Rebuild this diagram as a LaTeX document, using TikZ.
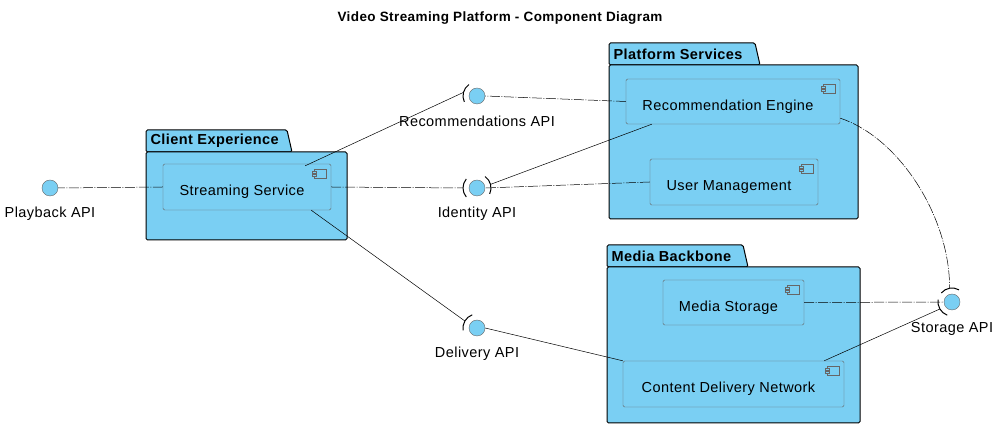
\documentclass[tikz,border=0pt]{standalone}
\usepackage{fontspec}
\setmainfont{Liberation Sans}[LetterSpace=3]
\begin{document}
\begin{tikzpicture}[x=1pt,y=1pt,
  pkg/.style={draw=black,fill=skyb,line width=1pt,rounded corners=1.5pt},
  comp/.style={draw=black!60,fill=skyb,rounded corners=1.5pt},
  iface/.style={circle,draw=black!60,fill=skyb,minimum size=16pt,inner sep=0pt},
  lbl/.style={font=\fontsize{14.5}{16}\selectfont},
  ptitle/.style={font=\bfseries\fontsize{14.5}{16}\selectfont,anchor=west},
  prov/.style={draw=black,dash pattern=on 10pt off 1.5pt on 1pt off 1.5pt,line width=0.5pt},
  req/.style={draw=black,line width=0.5pt},
  arcst/.style={draw=black,line width=1pt}]
\definecolor{skyb}{HTML}{7ACFF3}
\useasboundingbox (0,0) rectangle (1008,438);
\node[font=\bfseries\fontsize{13.5}{15}\selectfont] (title) at (500,420) {Video Streaming Platform - Component Diagram};
\newcommand{\pkgdraw}[7]{%
 \draw[pkg] (#1,#4) -- (#1,#5) -- (#2-5,#5) -- (#2,#4) -- cycle;
 \draw[pkg] (#1,#6) rectangle (#3,#4);
 \node[ptitle] at (#1+1,#4+11) {#7};}
\pkgdraw{146}{292}{347}{286}{308}{198}{Client Experience}
\pkgdraw{609}{760}{858}{373}{395}{219}{Platform Services}
\pkgdraw{607}{748}{860}{171}{193}{15}{Media Backbone}
\newcommand{\cmp}[6]{%
 \node[comp,minimum width=#3-#2,minimum height=#5-#4,inner sep=0pt] (#1) at ({(#2+#3)/2},{(#4+#5)/2}) {};
 \node[lbl] at ({(#2+#3)/2-5},{(#4+#5)/2-5}) {#6};
 \draw[black!60,fill=skyb] (#3-17,#5-5) rectangle (#3-5,#5-14);
 \draw[black!60,fill=skyb] (#3-19,#5-7) rectangle (#3-15,#5-9);
 \draw[black!60,fill=skyb] (#3-19,#5-10) rectangle (#3-15,#5-12);}
\cmp{ss}{163}{331}{228}{274}{Streaming Service}
\cmp{re}{626}{840}{314}{359}{Recommendation Engine}
\cmp{um}{650}{818}{233}{279}{User Management}
\cmp{ms}{663}{804}{113}{158}{Media Storage}
\cmp{cdn}{623}{844}{31}{77}{Content Delivery Network}
\node[iface] (pb) at (50,250) {};
\node[iface] (ra) at (477,342) {};
\node[iface] (ia) at (477,250) {};
\node[iface] (da) at (477,110) {};
\node[iface] (sa) at (952,136) {};
\node[lbl] (pbl) at (50,224) {Playback API};
\node[lbl] (ral) at (477,317) {Recommendations API};
\node[lbl] (ial) at (477,224) {Identity API};
\node[lbl] (dal) at (477,84) {Delivery API};
\node[lbl] (sal) at (952,109) {Storage API};
\newcommand{\rarc}[3]{%
 \draw[arcst] ([shift={(#2-40:14)}]#1.center) arc[start angle=#2-40,end angle=#2+40,radius=14];
 \coordinate (#3) at ([shift={(#2:14)}]#1.center);}
\rarc{ra}{165}{raL}
\rarc{ia}{180}{iaL}
\rarc{ia}{15}{iaR}
\rarc{da}{150}{daL}
\rarc{sa}{100}{saT}
\rarc{sa}{210}{saL}
\draw[prov] (ss.west) -- (pb.east);
\draw[req] (ss.north east) ++(-26,-2) coordinate (s1) (s1) -- (raL);
\draw[prov] (ss.east) -- (iaL);
\draw[req] (ss.south east) ++(-20,0) coordinate (s2) (s2) -- (daL);
\draw[prov] (re.west) -- (ra.east);
\draw[req] (re.south west) ++(26,0) coordinate (r1) (r1) -- (iaR);
\draw[prov] (um.west) -- (ia.east);
\draw[prov] (re.south east) ++(0,6) coordinate (r2) (r2) .. controls (900,300) and (950,220) .. (saT);
\draw[prov] (ms.east) -- (sa.west);
\draw[req] (cdn.north west) -- (da.east);
\draw[req] (cdn.north east) ++(-20,0) coordinate (c1) (c1) -- (saL);
\end{tikzpicture}
\end{document}
